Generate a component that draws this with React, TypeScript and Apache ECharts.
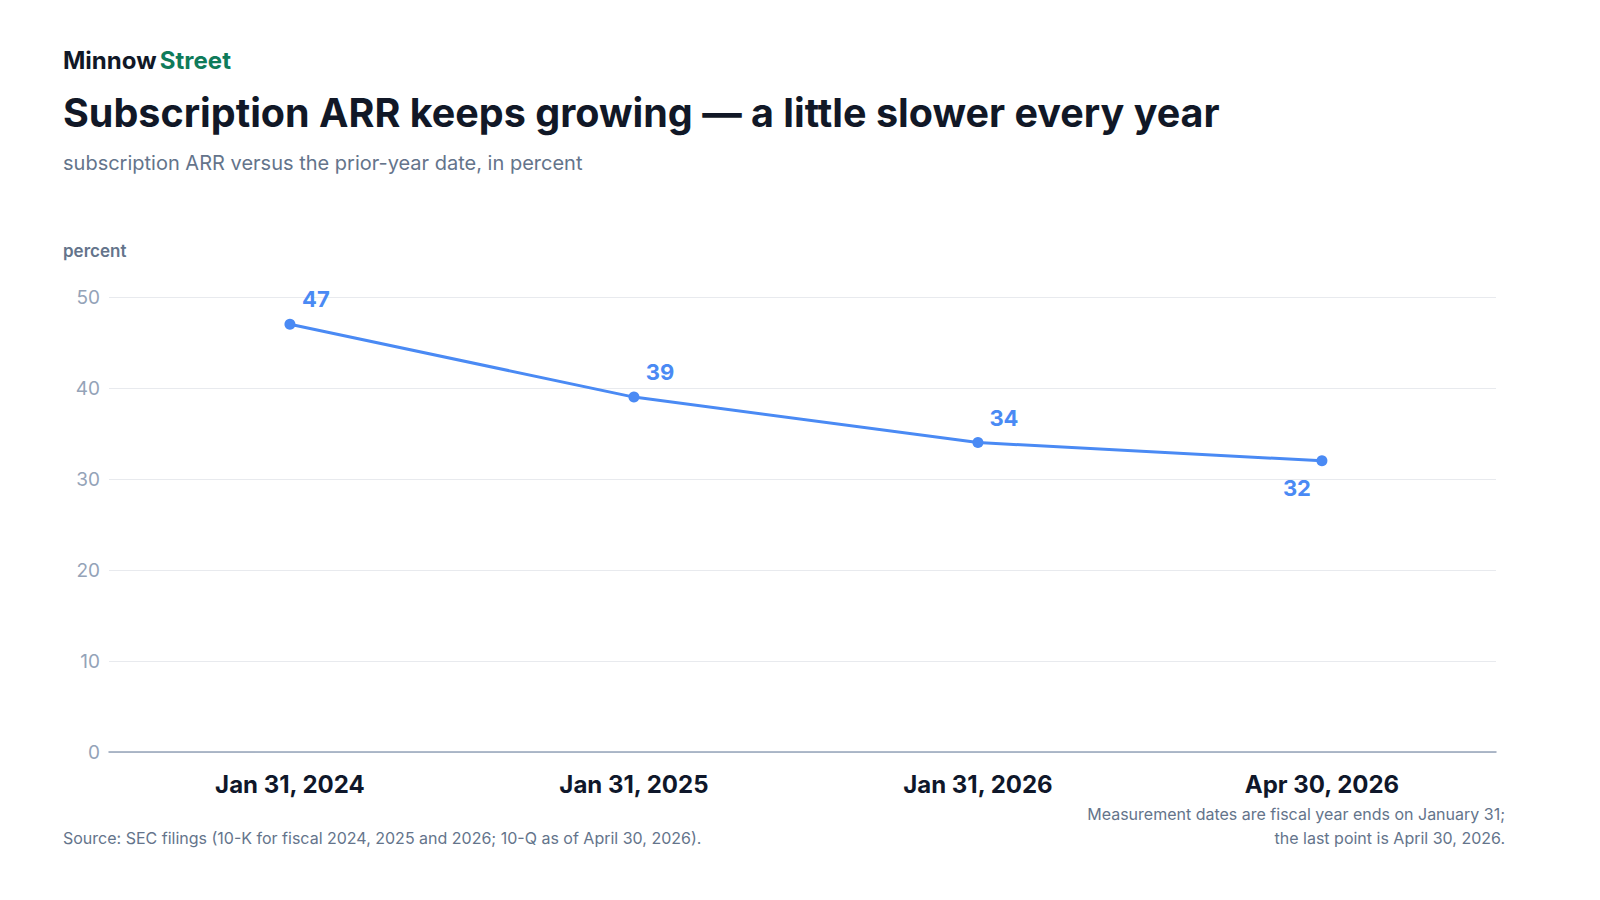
import { useEffect, useRef } from 'react'
import * as echarts from 'echarts'

const dates = ['Jan 31, 2024', 'Jan 31, 2025', 'Jan 31, 2026', 'Apr 30, 2026']
const growth = [47, 39, 34, 32]
const yTicks = [0, 10, 20, 30, 40, 50]

const FONT = 'Inter, "Noto Sans", sans-serif'

export default function App() {
  const chartRef = useRef<HTMLDivElement>(null)

  useEffect(() => {
    document.body.style.margin = '0'
    if (!chartRef.current) return
    const chart = echarts.init(chartRef.current, null, { renderer: 'svg' })

    const option: any = {
      animation: false,
      backgroundColor: '#ffffff',
      textStyle: { fontFamily: FONT },
      grid: { left: 109, right: 104, top: 297, bottom: 148 },
      xAxis: {
        type: 'value',
        min: -0.526,
        max: 3.506,
        splitLine: { show: false },
        axisLine: { show: true, lineStyle: { color: '#94a3b8', width: 1.5 } },
        axisTick: { show: false },
        axisLabel: {
          customValues: dates.map((_, i) => i),
          formatter: (v: number) => dates[Math.round(v)] ?? '',
          color: '#0f172a',
          fontSize: 24,
          fontWeight: 'bold',
          fontFamily: FONT,
          margin: 20,
        },
      },
      yAxis: {
        type: 'value',
        min: yTicks[0],
        max: yTicks[yTicks.length - 1],
        interval: 10,
        axisLine: { show: false },
        axisTick: { show: false },
        axisLabel: { color: '#94a3b8', fontSize: 19, fontFamily: FONT, margin: 9 },
        splitLine: { lineStyle: { color: '#e8eaee', width: 1 } },
      },
      series: [
        {
          type: 'line',
          data: growth.map((v, i) => [i, v]),
          lineStyle: { color: '#4a8af4', width: 3 },
          itemStyle: { color: '#4a8af4' },
          symbol: 'circle',
          symbolSize: 11,
          label: {
            show: true,
            position: 'inside',
            color: '#4a8af4',
            fontSize: 22,
            fontWeight: 'bold',
            fontFamily: FONT,
            formatter: (p: any) => String(p.value[1]),
          },
          // last point's label sits below-left, the others above-right
          labelLayout: (p: any) =>
            p.dataIndex === growth.length - 1 ? { dx: -25, dy: 27 } : { dx: 26, dy: -25 },
        },
      ],
      graphic: [
        {
          type: 'text',
          left: 63,
          top: 48,
          style: {
            text: '{a|Minnow} {b|Street}',
            rich: {
              a: { fontSize: 24, fontWeight: 'bold', fill: '#111827', fontFamily: FONT },
              b: { fontSize: 24, fontWeight: 'bold', fill: '#0f7b5a', fontFamily: FONT },
            },
          },
        },
        {
          type: 'text',
          left: 63,
          top: 93,
          style: {
            text: 'Subscription ARR keeps growing — a little slower every year',
            fontSize: 39.5,
            fontWeight: 'bold',
            fill: '#111827',
            fontFamily: FONT,
          },
        },
        {
          type: 'text',
          left: 63,
          top: 153,
          style: {
            text: 'subscription ARR versus the prior-year date, in percent',
            fontSize: 20,
            fill: '#64748b',
            fontFamily: FONT,
          },
        },
        {
          type: 'text',
          left: 63,
          top: 242,
          style: {
            text: 'percent',
            fontSize: 17,
            fontWeight: 600,
            fill: '#64748b',
            fontFamily: FONT,
          },
        },
        {
          type: 'text',
          left: 63,
          top: 830,
          style: {
            text: 'Source: SEC filings (10-K for fiscal 2024, 2025 and 2026; 10-Q as of April 30, 2026).',
            fontSize: 16,
            fill: '#64748b',
            fontFamily: FONT,
          },
        },
        {
          type: 'text',
          right: 95,
          top: 806,
          style: {
            text: 'Measurement dates are fiscal year ends on January 31;',
            fontSize: 16,
            fill: '#64748b',
            fontFamily: FONT,
          },
        },
        {
          type: 'text',
          right: 95,
          top: 830,
          style: {
            text: 'the last point is April 30, 2026.',
            fontSize: 16,
            fill: '#64748b',
            fontFamily: FONT,
          },
        },
      ],
    }

    chart.setOption(option)
    const handleResize = () => chart.resize()
    window.addEventListener('resize', handleResize)
    return () => {
      window.removeEventListener('resize', handleResize)
      chart.dispose()
    }
  }, [])

  return <div ref={chartRef} style={{ width: '1600px', height: '900px' }} />
}
